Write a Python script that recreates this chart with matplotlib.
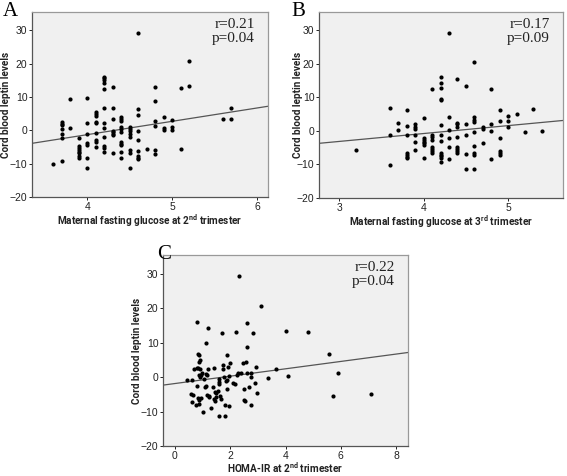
import matplotlib
matplotlib.use("Agg")
import matplotlib.pyplot as plt
import numpy as np

# Panel A: maternal fasting glucose, 2nd trimester vs cord blood leptin
glu2_x = [3.6, 3.7,
          3.7, 3.7, 3.7, 3.7, 3.7, 3.7,
          3.8, 3.8,
          3.9, 3.9, 3.9, 3.9, 3.9, 3.9, 3.9, 3.9,
          4.0, 4.0, 4.0, 4.0, 4.0, 4.0, 4.0,
          4.1, 4.1, 4.1, 4.1, 4.1, 4.1, 4.1, 4.1, 4.1,
          4.2, 4.2, 4.2, 4.2, 4.2, 4.2, 4.2, 4.2, 4.2, 4.2, 4.2, 4.2,
          4.3, 4.3, 4.3, 4.3, 4.3, 4.3, 4.3, 4.3,
          4.4, 4.4, 4.4, 4.4, 4.4, 4.4, 4.4, 4.4, 4.4, 4.4, 4.4,
          4.5, 4.5, 4.5, 4.5, 4.5, 4.5, 4.5, 4.5,
          4.6, 4.6, 4.6, 4.6, 4.6, 4.6, 4.6, 4.6, 4.6,
          4.7,
          4.8, 4.8, 4.8, 4.8, 4.8, 4.8,
          4.9, 4.9, 4.9,
          5.0, 5.0, 5.0,
          5.1, 5.1,
          5.2, 5.2,
          5.6,
          5.7, 5.7]
glu2_y = [-10.0, -9.3,
          2.6, 2.0, 1.5, 0.5, -1.0, -2.4,
          9.3, 0.6,
          -2.4, -4.6, -5.2, -5.8, -6.4, -6.9, -7.6, -8.2,
          9.7, 2.1, -1.0, -3.7, -4.5, -8.4, -11.2,
          5.4, 4.8, 4.3, 2.6, 2.2, -0.9, -2.9, -3.4, -4.9,
          16.1, 15.6, 15.1, 14.3, 12.5, 6.6, 2.2, 0.6, -1.9, -4.8, -5.2, -6.6,
          12.9, 6.8, 3.3, -0.1, -0.6, -1.0, -1.4, -6.8,
          4.1, 3.3, 2.7, 1.1, 0.4, -0.4, -3.6, -4.0, -4.5, -6.4, -8.2,
          1.0, 0.4, -0.1, -1.2, -1.9, -5.9, -6.9, -11.2,
          29.2, 6.4, 4.5, -0.2, -3.0, -6.1, -7.8, -8.2, -8.5,
          -5.5,
          13.0, 8.8, 2.7, 1.3, -5.8, -7.0,
          4.1, 0.8, 0.2,
          3.0, 1.1, 0.2,
          12.6, -5.6,
          20.7, 13.3,
          3.3,
          6.8, 3.5]

# Panel B: maternal fasting glucose, 3rd trimester
glu3_x = [3.2,
          3.6, 3.6, 3.6,
          3.7, 3.7,
          3.8, 3.8, 3.8, 3.8, 3.8, 3.8, 3.8,
          3.9, 3.9, 3.9, 3.9, 3.9, 3.9,
          4.0, 4.0, 4.0, 4.0, 4.0, 4.0, 4.0,
          4.1, 4.1, 4.1, 4.1, 4.1, 4.1, 4.1, 4.1,
          4.2, 4.2, 4.2, 4.2, 4.2, 4.2, 4.2, 4.2, 4.2, 4.2, 4.2, 4.2, 4.2,
          4.3, 4.3, 4.3, 4.3, 4.3, 4.3,
          4.4, 4.4, 4.4, 4.4, 4.4, 4.4, 4.4, 4.4, 4.4,
          4.5, 4.5, 4.5, 4.5, 4.5,
          4.6, 4.6, 4.6, 4.6, 4.6, 4.6, 4.6, 4.6, 4.6,
          4.7, 4.7, 4.7,
          4.8, 4.8, 4.8, 4.8,
          4.9, 4.9, 4.9, 4.9, 4.9, 4.9,
          5.0, 5.0, 5.0,
          5.1, 5.2, 5.3, 5.4]
glu3_y = [-5.7,
          6.8, -1.1, -10.1,
          2.4, 0.4,
          6.3, 1.4, -1.1, -6.6, -7.2, -7.8, -8.2,
          2.1, 1.1, 0.6, -1.1, -3.4, -5.6,
          4.0, -2.2, -2.7, -3.2, -3.7, -4.2, -8.2,
          12.5, -1.2, -1.9, -2.6, -4.9, -5.5, -6.0, -6.5,
          16.1, 14.4, 12.9, 9.6, 9.2, 1.8, -1.1, -3.1, -6.5, -7.1, -7.6, -8.0, -9.4,
          29.3, 4.3, 0.3, -2.1, -4.9, -8.4,
          15.5, 2.5, 2.1, 1.3, -1.9, -4.9, -5.5, -6.0, -6.5,
          13.3, 2.1, -1.1, -6.8, -11.2,
          20.5, 4.1, 3.4, 2.6, -0.3, -4.6, -6.6, -7.2, -11.2,
          1.1, 0.5, -3.6,
          12.5, 2.1, -0.1, -8.3,
          6.4, 3.1, -2.1, -6.1, -6.7, -7.2,
          4.5, 3.1, 1.1,
          5.1, -0.2, 6.5, 0.0]

# Panel C: HOMA-IR, 2nd trimester
homa_x = [0.45, 0.62, 0.57, 0.63, 0.66, 0.69, 0.79, 0.79, 0.75, 0.79,
          0.85, 0.88, 0.91, 0.87, 0.85, 0.91, 0.88, 0.91, 0.93, 0.82,
          0.87, 0.88, 0.93, 0.98, 1.03, 1.06, 1.09, 1.11, 1.11, 1.12,
          1.15, 1.17, 1.18, 1.21, 1.22, 1.24, 1.31, 1.39, 1.41, 1.41,
          1.44, 1.45, 1.49, 1.49, 1.55, 1.60, 1.60, 1.61, 1.61, 1.63,
          1.67, 1.69, 1.73, 1.75, 1.78, 1.80, 1.81, 1.85, 1.87, 1.87,
          1.90, 1.92, 1.96, 1.97, 1.99, 2.11, 2.18, 2.20, 2.24, 2.30,
          2.33, 2.38, 2.48, 2.50, 2.51, 2.55, 2.56, 2.60, 2.62, 2.62,
          2.69, 2.74, 2.76, 2.74, 2.82, 2.88, 2.92, 2.96, 3.11, 3.35,
          3.66, 4.02, 4.10, 4.80, 5.56, 5.70, 5.90, 7.11]
homa_y = [-0.9, -0.9, -4.8, -7.3, -5.2, 2.3, 2.6, 16.1, -8.2, -2.5,
          6.7, 6.3, 5.0, 4.4, 2.6, 2.4, 0.5, 0.0, 0.7, -6.0,
          -6.5, -7.7, -6.1, 1.3, -10.0, -0.6, -3.0, 0.8, 9.8, -2.5,
          0.7, -5.3, 14.4, 2.3, -5.9, -5.6, -9.1, -3.0, 2.7, -6.3,
          -4.3, -6.8, -5.9, -4.6, -3.9, -0.5, -1.3, -2.0, -11.2, -5.6,
          -6.3, 12.7, 2.4, 3.4, 0.0, -8.0, -11.2, -1.0, 6.5, -3.5,
          -0.8, 3.1, -8.3, 0.2, 4.0, -1.7, -1.9, 13.1, 0.7, 1.2,
          29.3, 1.2, 4.1, -3.3, -6.5, -7.0, 4.4, 15.6, 8.8, 1.2,
          -2.9, 1.2, 0.0, -8.1, 12.7, -1.7, 3.1, -4.6, 20.7, -0.3,
          2.3, 13.4, 0.2, 13.1, 6.7, -5.6, 1.3, -4.9]

# fit lines as drawn in the original (slope, intercept)
fit_a = (4.0, -17.3)
fit_b = (2.36, -10.2)
fit_c = (1.07, -1.85)

# xlab_off: pixel offset of the x label's bottom edge below the axes
panels = [
    dict(x=glu2_x, y=glu2_y, fit=fit_a, xlim=(3.35, 6.13), xticks=[4, 5, 6],
         xlabel="Maternal fasting glucose at 2$^{\\mathregular{nd}}$ trimester",
         stat="r=0.21\np=0.04", letter="A",
         pos=[32, 197, 236, 185], letter_xy=(3, 2), ylab_off=-21, xlab_off=-32),
    dict(x=glu3_x, y=glu3_y, fit=fit_b, xlim=(2.76, 5.65), xticks=[3, 4, 5],
         xlabel="Maternal fasting glucose at 3$^{\\mathregular{rd}}$ trimester",
         stat="r=0.17\np=0.09", letter="B",
         pos=[319, 198, 244, 186], letter_xy=(291, 2), ylab_off=-16, xlab_off=-32),
    dict(x=homa_x, y=homa_y, fit=fit_c, xlim=(-0.43, 8.43), xticks=[0, 2, 4, 6, 8],
         xlabel="HOMA-IR at 2$^{\\mathregular{nd}}$ trimester",
         stat="r=0.22\np=0.04", letter="C",
         pos=[163, 446, 245, 191], letter_xy=(157, 245), ylab_off=-21, xlab_off=-29),
]

W, H = 567, 476
label_font = ['Roboto', 'DejaVu Sans']

plt.rcParams['font.family'] = ['Liberation Sans', 'DejaVu Sans']
plt.rcParams['mathtext.fontset'] = 'custom'
plt.rcParams['mathtext.rm'] = 'Roboto:bold'

fig = plt.figure(figsize=(W / 100, H / 100), dpi=100)

for p in panels:
    left, bottom, w, h = p["pos"]
    ax = fig.add_axes([left / W, 1 - bottom / H, w / W, h / H])
    ax.set_facecolor("#f0f0f0")
    ax.scatter(p["x"], p["y"], s=9, color="black", linewidths=0, zorder=3)
    xs = np.array(p["xlim"])
    ax.plot(xs, p["fit"][0] * xs + p["fit"][1], color="#555555", lw=0.9, zorder=2)
    ax.set_xlim(p["xlim"])
    ax.set_ylim(-20, 35.5)
    ax.set_xticks(p["xticks"])
    ax.set_yticks([-20, -10, 0, 10, 20, 30])
    ax.tick_params(length=2.5, width=0.7, labelsize=7.5, pad=0.8, colors="#222222")
    for s in ax.spines.values():
        s.set_color("#999999")
        s.set_linewidth(0.9)
    ax.spines["left"].set_color("#555555")
    ax.spines["bottom"].set_color("#555555")
    ax.set_xlabel(p["xlabel"], fontsize=7.2, fontweight="bold", family=label_font,
                  color="#222222", va="bottom")
    ax.xaxis.set_label_coords(0.5, p["xlab_off"] / h)
    ax.set_ylabel("Cord blood leptin levels", fontsize=7.2, fontweight="bold", family=label_font,
                  color="#222222")
    ax.yaxis.set_label_coords(p["ylab_off"] / w, 0.5)
    ax.text(0.945, 0.97, p["stat"], transform=ax.transAxes, ha="right", va="top",
            fontsize=11, family="Liberation Serif", linespacing=1.1, color="#222222")
    fig.text(p["letter_xy"][0] / W, 1 - p["letter_xy"][1] / H, p["letter"],
             fontsize=15, family="Liberation Serif", ha="left", va="top")

fig.savefig("out.png", dpi=100)
